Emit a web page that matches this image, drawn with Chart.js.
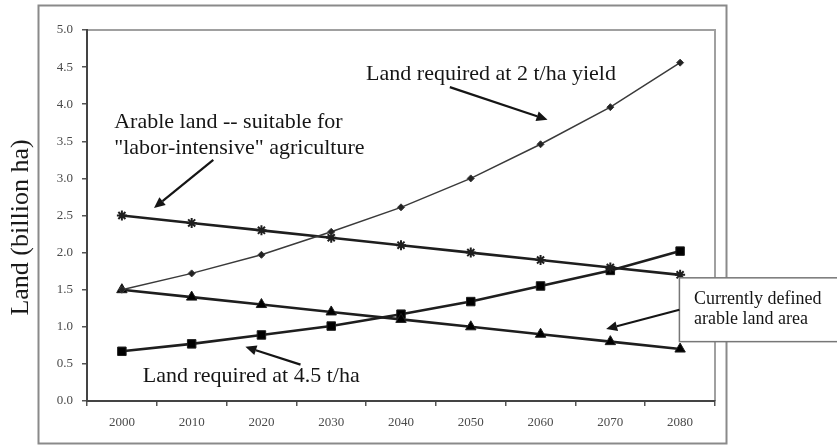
<!DOCTYPE html>
<html>
<head>
<meta charset="utf-8">
<script src="https://cdn.jsdelivr.net/npm/chart.js@4.4.1/dist/chart.umd.min.js"></script>
<style>
html,body{margin:0;padding:0;background:#fff;}
#wrap{width:837px;height:447px;position:relative;}
</style>
</head>
<body>
<div id="wrap"><canvas id="c" width="837" height="447"></canvas></div>
<script>
const years = ['2000','2010','2020','2030','2040','2050','2060','2070','2080'];
const landAt2t = [1.5, 1.72, 1.97, 2.28, 2.61, 3.0, 3.46, 3.96, 4.56];
const arableLabor = [2.5, 2.4, 2.3, 2.2, 2.1, 2.0, 1.9, 1.8, 1.7];
const arableCurrent = [1.5, 1.4, 1.3, 1.2, 1.1, 1.0, 0.9, 0.8, 0.7];
const landAt45t = [0.67, 0.77, 0.89, 1.01, 1.17, 1.34, 1.55, 1.76, 2.02];
const yTicks = [0,0.5,1,1.5,2,2.5,3,3.5,4,4.5,5];
const yTitle = 'Land (billion ha)';

// annotations in data space: x = category index, y = value
const notes = [
  {lines:['Land required at 2 t/ha yield'], x:3.5, y:4.41, size:22, arrow:[4.7,4.23,6.1,3.79]},
  {lines:['Arable land -- suitable for','"labor-intensive" agriculture'], x:-0.11, y:3.76, size:22, lh:0.35, arrow:[1.31,3.25,0.46,2.6]},
  {lines:['Land required at 4.5 t/ha'], x:0.3, y:0.34, size:22, arrow:[2.56,0.49,1.77,0.73]},
  {lines:['Currently defined','arable land area'], x:8.2, y:1.37, size:18, lh:0.27, box:[7.99,1.66,1.0e9,0.80], arrow:[7.99,1.23,6.94,0.97]}
];

function arrow(ctx, x1, y1, x2, y2){
  const a = Math.atan2(y2-y1, x2-x1);
  const L = 11, W = 5;
  const bx = x2 - L*Math.cos(a), by = y2 - L*Math.sin(a);
  ctx.beginPath(); ctx.moveTo(x1,y1); ctx.lineTo(bx,by); ctx.stroke();
  ctx.beginPath();
  ctx.moveTo(x2,y2);
  ctx.lineTo(bx + W*Math.sin(a), by - W*Math.cos(a));
  ctx.lineTo(bx - W*Math.sin(a), by + W*Math.cos(a));
  ctx.closePath(); ctx.fill();
}

const decor = {
  id:'decor',
  beforeDraw(chart){
    const ctx = chart.ctx, a = chart.chartArea;
    ctx.save();
    ctx.fillStyle='#fff'; ctx.fillRect(0,0,chart.width,chart.height);
    // outer frame
    ctx.strokeStyle='#8a8a8a'; ctx.lineWidth=2;
    ctx.strokeRect(38.5,5.5,688,438);
    // plot frame top/right
    ctx.strokeStyle='#a0a0a0'; ctx.lineWidth=2;
    ctx.beginPath(); ctx.moveTo(a.left,a.top); ctx.lineTo(a.right,a.top); ctx.lineTo(a.right,a.bottom); ctx.stroke();
    // y title
    ctx.fillStyle='#1a1a1a'; ctx.font='26px "Liberation Serif"';
    ctx.textAlign='center'; ctx.textBaseline='middle';
    ctx.translate(21,(a.top+a.bottom)/2+12); ctx.rotate(-Math.PI/2);
    ctx.fillText(yTitle,0,0);
    ctx.restore();
  },
  afterDatasetsDraw(chart){
    const ctx = chart.ctx, xs = chart.scales.x, ys = chart.scales.y;
    const px = v => xs.getPixelForValue(v), py = v => ys.getPixelForValue(v);
    ctx.save();
    notes.forEach(n=>{
      if(n.box){
        const x1=px(n.box[0]), y1=py(n.box[1]), y2=py(n.box[3]);
        ctx.fillStyle='#fff'; ctx.fillRect(x1,y1,chart.width-x1+5,y2-y1);
        ctx.strokeStyle='#777'; ctx.lineWidth=1.5;
        ctx.strokeRect(x1,y1,chart.width-x1+5,y2-y1);
      }
      ctx.fillStyle='#151515'; ctx.font=n.size+'px "Liberation Serif"';
      ctx.textAlign='left'; ctx.textBaseline='middle';
      n.lines.forEach((t,i)=>ctx.fillText(t, px(n.x), py(n.y - i*(n.lh||0))));
      ctx.strokeStyle='#151515'; ctx.fillStyle='#151515'; ctx.lineWidth=2.2;
      arrow(ctx, px(n.arrow[0]), py(n.arrow[1]), px(n.arrow[2]), py(n.arrow[3]));
    });
    ctx.restore();
  }
};

const dark = '#1e1e1e';
new Chart(document.getElementById('c'), {
  type:'line',
  data:{
    labels: years,
    datasets:[
      {label:'Land required at 2 t/ha yield', data:landAt2t, borderColor:'#3a3a3a', backgroundColor:'#222', borderWidth:1.5, pointStyle:'rectRot', pointRadius:3.5, pointBorderWidth:1, tension:0},
      {label:'Arable land -- suitable for "labor-intensive" agriculture', data:arableLabor, borderColor:dark, backgroundColor:dark, borderWidth:2.6, pointStyle:'star', pointRadius:5, pointBorderWidth:2, tension:0},
      {label:'Currently defined arable land area', data:arableCurrent, borderColor:dark, backgroundColor:'#000', borderWidth:2.6, pointStyle:'triangle', pointRadius:6, pointBorderWidth:1, tension:0},
      {label:'Land required at 4.5 t/ha', data:landAt45t, borderColor:dark, backgroundColor:'#000', borderWidth:2.6, pointStyle:'rect', pointRadius:6, pointBorderWidth:1, tension:0}
    ]
  },
  options:{
    responsive:false, animation:false,
    layout:{padding:{left:0,right:122,top:30,bottom:0}},
    plugins:{legend:{display:false}, tooltip:{enabled:false}},
    scales:{
      x:{
        offset:true,
        grid:{offset:true, drawOnChartArea:false, drawTicks:true, tickLength:5, color:'#555', lineWidth:1.5},
        border:{display:true, color:'#444', width:2},
        ticks:{color:'#4a4a4a', font:{family:'Liberation Serif', size:13}, padding:9, maxRotation:0},
        afterFit(s){ s.height = 46; }
      },
      y:{
        min:0, max:5,
        afterBuildTicks(s){ s.ticks = yTicks.map(v=>({value:v})); },
        grid:{drawOnChartArea:false, drawTicks:true, tickLength:5, color:'#555', lineWidth:1.5},
        border:{display:true, color:'#444', width:2},
        ticks:{color:'#4a4a4a', font:{family:'Liberation Serif', size:13}, padding:9, callback:v=>v.toFixed(1)},
        afterFit(s){ s.width = 87; }
      }
    }
  },
  plugins:[decor]
});
</script>
</body>
</html>
